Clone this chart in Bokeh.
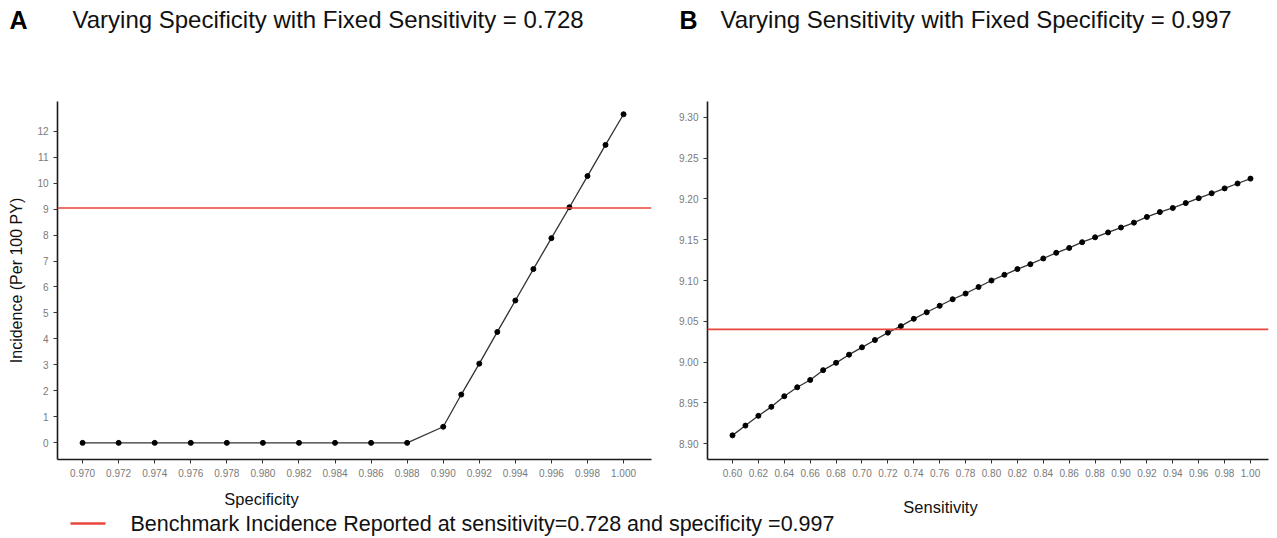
from bokeh.plotting import figure
from bokeh.models import Range1d, Span, FixedTicker, NumeralTickFormatter
from bokeh.layouts import column, row
from bokeh.embed import file_html
from bokeh.resources import INLINE
from bokeh.core.properties import value

# ---------------- data ----------------
spec_x = [0.970, 0.972, 0.974, 0.976, 0.978, 0.980, 0.982, 0.984, 0.986, 0.988,
          0.990, 0.991, 0.992, 0.993, 0.994, 0.995, 0.996, 0.997, 0.998, 0.999, 1.000]
spec_inc = [0, 0, 0, 0, 0, 0, 0, 0, 0, 0,
            0.62, 1.86, 3.05, 4.27, 5.48, 6.69, 7.88, 9.07, 10.27, 11.47, 12.65]

sens_x = [0.60, 0.61, 0.62, 0.63, 0.64, 0.65, 0.66, 0.67, 0.68, 0.69, 0.70,
          0.71, 0.72, 0.73, 0.74, 0.75, 0.76, 0.77, 0.78, 0.79, 0.80,
          0.81, 0.82, 0.83, 0.84, 0.85, 0.86, 0.87, 0.88, 0.89, 0.90,
          0.91, 0.92, 0.93, 0.94, 0.95, 0.96, 0.97, 0.98, 0.99, 1.00]
sens_inc = [8.910, 8.922, 8.934, 8.945, 8.958, 8.969, 8.978, 8.990, 8.999, 9.009, 9.018,
            9.027, 9.036, 9.044, 9.053, 9.061, 9.069, 9.077, 9.084, 9.092, 9.100,
            9.107, 9.114, 9.120, 9.127, 9.134, 9.140, 9.147, 9.153, 9.159, 9.165,
            9.171, 9.178, 9.184, 9.189, 9.195, 9.201, 9.207, 9.213, 9.219, 9.225]

benchmark = 9.04

spec_ticks = [0.970, 0.972, 0.974, 0.976, 0.978, 0.980, 0.982, 0.984, 0.986, 0.988,
              0.990, 0.992, 0.994, 0.996, 0.998, 1.000]
spec_yticks = [0, 1, 2, 3, 4, 5, 6, 7, 8, 9, 10, 11, 12]
sens_ticks = [0.60, 0.62, 0.64, 0.66, 0.68, 0.70, 0.72, 0.74, 0.76, 0.78, 0.80,
              0.82, 0.84, 0.86, 0.88, 0.90, 0.92, 0.94, 0.96, 0.98, 1.00]
sens_yticks = [8.90, 8.95, 9.00, 9.05, 9.10, 9.15, 9.20, 9.25, 9.30]

panel_letters = ["A", "B"]
titles = ["Varying Specificity with Fixed Sensitivity = 0.728",
          "Varying Sensitivity with Fixed Specificity = 0.997"]
x_labels = ["Specificity", "Sensitivity"]
y_label = "Incidence (Per 100 PY)"
legend_text = "Benchmark  Incidence Reported at sensitivity=0.728 and specificity =0.997"

FONT = "Liberation Sans"
RED = "#e8453c"
W = 1277
WA = 658    # width of panel A
T = 48      # title strip height
H1 = 436    # panel height
B = 54      # bottom strip height


def style(p, xticks, yticks, xfmt, yfmt):
    p.grid.visible = False
    p.outline_line_color = None
    for ax in (p.xaxis[0], p.yaxis[0]):
        ax.axis_line_color = "#1a1a1a"
        ax.axis_line_width = 1.6
        ax.major_tick_line_color = "#333333"
        ax.major_tick_line_width = 1
        ax.major_tick_out = 4
        ax.major_tick_in = 0
        ax.minor_tick_line_color = None
        ax.major_label_text_font = FONT
        ax.major_label_text_font_size = "10px"
        ax.major_label_text_color = "#7a7a7a"
        ax.major_label_standoff = 5
    p.xaxis[0].ticker = FixedTicker(ticks=xticks)
    p.yaxis[0].ticker = FixedTicker(ticks=yticks)
    p.xaxis[0].formatter = NumeralTickFormatter(format=xfmt)
    p.yaxis[0].formatter = NumeralTickFormatter(format=yfmt)


def strip(height):
    s = figure(width=W, height=height, output_backend="svg", toolbar_location=None,
               x_range=Range1d(0, W), y_range=Range1d(height, 0),
               x_axis_type=None, y_axis_type=None, min_border=0)
    s.grid.visible = False
    s.outline_line_color = None
    return s


def txt(p, x, y, t, size, bold=False, align="left", color="#111111"):
    p.text(x=[x], y=[y], text=[t], text_font=value(FONT), text_font_size=value(size),
           text_font_style="bold" if bold else "normal", text_color=color,
           text_align=align, text_baseline="middle")


# ---------------- title strip ----------------
pT = strip(T)
txt(pT, 9, 19, panel_letters[0], "25px", bold=True, color="#000000")
txt(pT, 72, 19, titles[0], "24px")
txt(pT, 679, 19, panel_letters[1], "25px", bold=True, color="#000000")
txt(pT, 720, 19, titles[1], "24px")

# ---------------- panel A ----------------
pA = figure(width=WA, height=H1, output_backend="svg", toolbar_location=None,
            x_range=Range1d(0.96861, 1.00155), y_range=Range1d(-0.64, 13.14),
            min_border_left=57, min_border_right=WA - 651, min_border_top=97 - T,
            min_border_bottom=(T + H1) - 461)
style(pA, spec_ticks, spec_yticks, "0.000", "0")
pA.yaxis[0].axis_label = y_label
pA.yaxis[0].axis_label_text_font = FONT
pA.yaxis[0].axis_label_text_font_size = "16px"
pA.yaxis[0].axis_label_text_font_style = "normal"
pA.yaxis[0].axis_label_text_color = "#111111"
pA.yaxis[0].axis_label_standoff = 9
pA.add_layout(Span(location=benchmark, dimension="width", line_color=RED, line_width=1.6))
pA.line(spec_x, spec_inc, line_color="#333333", line_width=1.3)
pA.scatter(spec_x, spec_inc, size=5, color="black")

# ---------------- panel B ----------------
pB = figure(width=W - WA, height=H1, output_backend="svg", toolbar_location=None,
            x_range=Range1d(0.5807, 1.0139), y_range=Range1d(8.8804, 9.3196),
            min_border_left=707 - WA, min_border_right=W - 1268, min_border_top=101 - T,
            min_border_bottom=(T + H1) - 459)
style(pB, sens_ticks, sens_yticks, "0.00", "0.00")
pB.add_layout(Span(location=benchmark, dimension="width", line_color=RED, line_width=1.6))
pB.line(sens_x, sens_inc, line_color="#333333", line_width=1.3)
pB.scatter(sens_x, sens_inc, size=5, color="black")

# ---------------- bottom strip: axis titles + legend ----------------
pL = strip(B)
txt(pL, 261, 14, x_labels[0], "16.5px", align="center")
txt(pL, 940, 22, x_labels[1], "16.5px", align="center")
pL.segment(x0=[70], y0=[39], x1=[105], y1=[39], line_color=RED, line_width=2.5)
txt(pL, 130, 39, legend_text, "21.5px")

layout = column(pT, row(pA, pB), pL)
open("out.html", "w").write(file_html(layout, INLINE))
